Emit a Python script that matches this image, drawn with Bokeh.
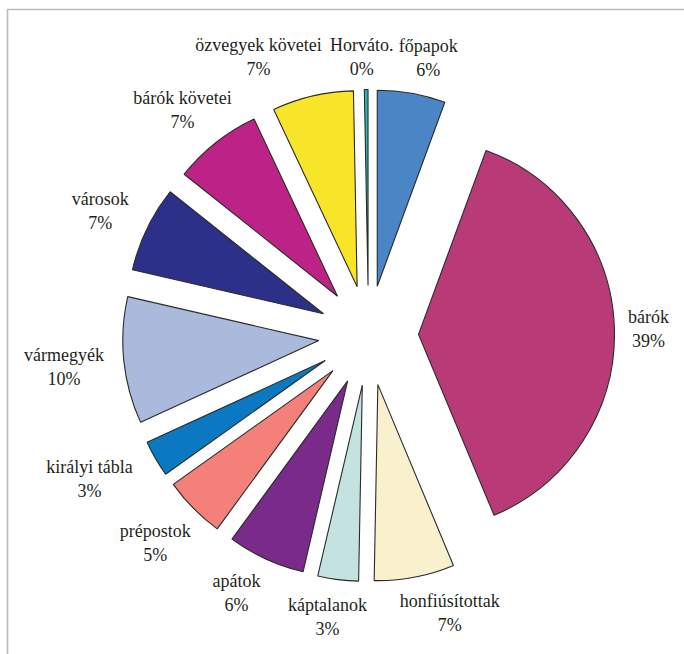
import numpy as np
from bokeh.plotting import figure
from bokeh.models import ColumnDataSource, Range1d, BoxAnnotation
from bokeh.core.properties import value
from bokeh.embed import file_html
from bokeh.resources import INLINE

# ---- data (clockwise from 12 o'clock) ----
categories = ["főpapok", "bárók", "honfiúsítottak", "káptalanok", "apátok", "prépostok",
              "királyi tábla", "vármegyék", "városok", "bárók követei", "özvegyek követei",
              "Horváto."]
shares = [5.6, 38.1, 6.6, 3.35, 6.4, 5.1, 3.0, 10.45, 7.1, 7.3, 6.7, 0.3]
pct_labels = ["6%", "39%", "7%", "3%", "6%", "5%", "3%", "10%", "7%", "7%", "7%", "0%"]
colors = ["#4A86C6", "#B83A76", "#F9F1CD", "#C3E2E0", "#7A2A89", "#F4807A",
          "#0A79C2", "#A9BADC", "#2C3089", "#BD2386", "#F8E52A", "#2EB5B2"]

# ---- layout ----
W, H = 684, 654
cx, cy = 368.0, H - 335.0   # pie centre (data units == pixels)
R = 196.0                   # radius
EXPLODE = 50.0              # explode distance
LABEL_R = 290.0
# label nudges (pixels, +x right, +y down)
label_nudge = [(9, 8), (-10, 0), (27, -7), (-5, -6), (-11, -6), (-7, 4),
               (-28, -2), (-16, 2), (-7, 1), (-6, 2), (-44, 4), (-4, 11)]

vals = np.array(shares, dtype=float)
frac = vals / vals.sum()
end_deg = np.cumsum(frac) * 360.0
start_deg = end_deg - frac * 360.0
mid = np.radians((start_deg + end_deg) / 2.0)

wx = cx + EXPLODE * np.sin(mid)
wy = cy + EXPLODE * np.cos(mid)

src = ColumnDataSource(dict(
    x=wx, y=wy,
    start=np.radians(90.0 - end_deg),
    end=np.radians(90.0 - start_deg),
    color=colors, name=categories,
))

lx = cx + LABEL_R * np.sin(mid) + np.array([n[0] for n in label_nudge])
ly = cy + LABEL_R * np.cos(mid) - np.array([n[1] for n in label_nudge])

lab = ColumnDataSource(dict(
    x=lx, y1=ly + 12, y2=ly - 12, name=categories, pct=pct_labels,
))

p = figure(width=W, height=H, output_backend="svg", toolbar_location=None,
           x_range=Range1d(0, W), y_range=Range1d(0, H),
           x_axis_type=None, y_axis_type=None, min_border=0,
           outline_line_color=None, background_fill_color="white",
           border_fill_color="white")
p.grid.visible = False

p.add_layout(BoxAnnotation(left=7, right=W + 50, top=H - 9, bottom=-50,
                           fill_color=None, fill_alpha=0,
                           line_color="#1a1a1a", line_width=1.6))

p.wedge(x="x", y="y", radius=R, start_angle="start", end_angle="end",
        fill_color="color", line_color="#2a2a2a", line_width=1.1, source=src)

for col, dy in (("name", "y1"), ("pct", "y2")):
    p.text(x="x", y=dy, text=col, source=lab,
           text_font=value("Liberation Serif"), text_font_size="18px",
           text_color="#231F20", text_align="center", text_baseline="middle")

open("out.html", "w").write(file_html(p, INLINE))
